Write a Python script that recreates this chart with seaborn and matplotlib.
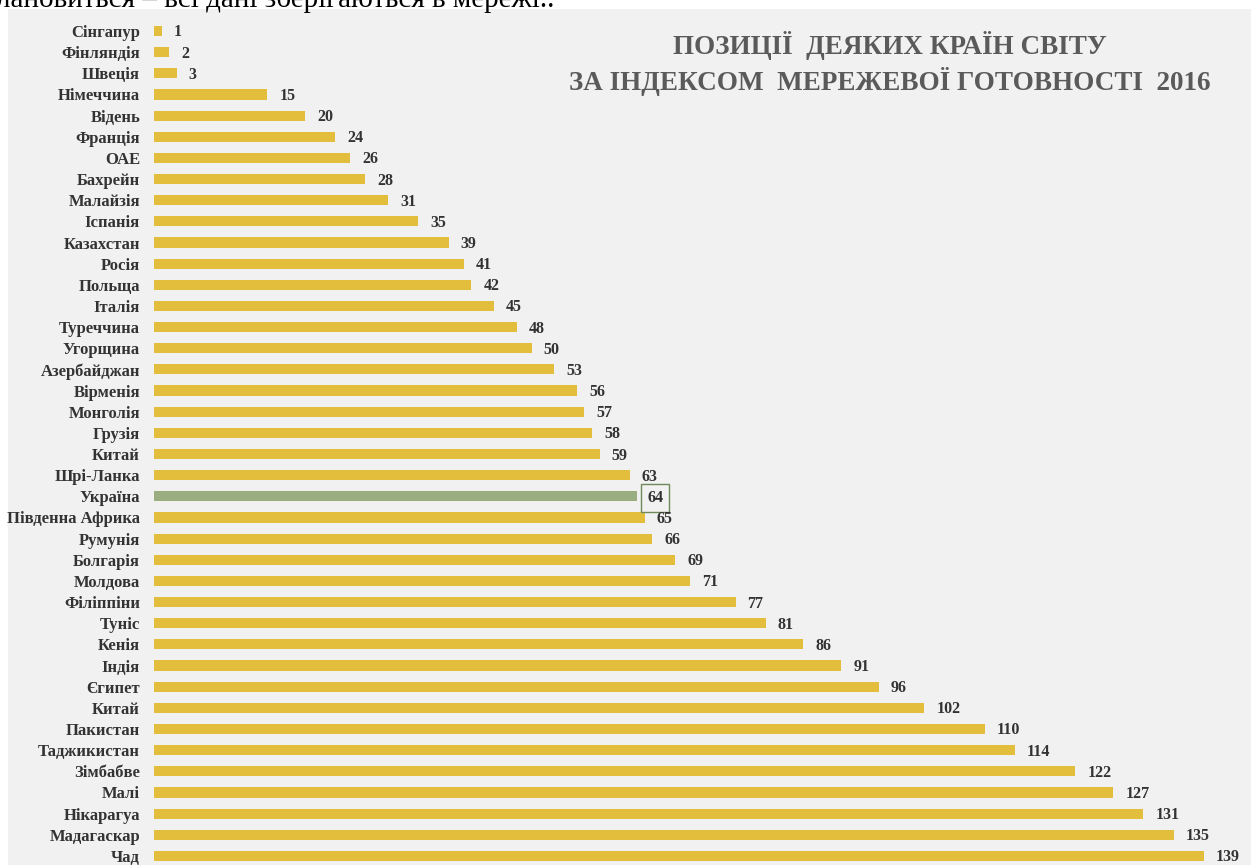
import matplotlib
matplotlib.use("Agg")
import matplotlib.pyplot as plt
import seaborn as sns
import pandas as pd
from matplotlib.patches import Rectangle

countries = ["Сінгапур", "Фінляндія", "Швеція", "Німеччина", "Відень", "Франція",
             "ОАЕ", "Бахрейн", "Малайзія", "Іспанія", "Казахстан", "Росія",
             "Польща", "Італія", "Туреччина", "Угорщина", "Азербайджан", "Вірменія",
             "Монголія", "Грузія", "Китай", "Шрі-Ланка", "Україна", "Південна Африка",
             "Румунія", "Болгарія", "Молдова", "Філіппіни", "Туніс", "Кенія",
             "Індія", "Єгипет", "Китай", "Пакистан", "Таджикистан", "Зімбабве",
             "Малі", "Нікарагуа", "Мадагаскар", "Чад"]
ranks = [1, 2, 3, 15, 20, 24, 26, 28, 31, 35, 39, 41, 42, 45, 48, 50, 53, 56, 57, 58,
         59, 63, 64, 65, 66, 69, 71, 77, 81, 86, 91, 96, 102, 110, 114, 122, 127, 131,
         135, 139]
highlight = "Україна"

title = "ПОЗИЦІЇ  ДЕЯКИХ КРАЇН СВІТУ\nЗА ІНДЕКСОМ  МЕРЕЖЕВОЇ ГОТОВНОСТІ  2016"
header_line = "лановиться – всі дані зберігаються в мережі.."

GOLD = "#E2BE3C"
GREEN = "#9BAE80"
PANEL = "#F1F1F1"
TEXT = "#333333"
SERIF = ["Liberation Serif", "DejaVu Serif"]

sns.set_theme(style="white")
plt.rcParams["font.family"] = SERIF

df = pd.DataFrame({
    "pos": [str(i) for i in range(len(countries))],
    "rank": ranks,
    "group": ["hl" if c == highlight else "base" for c in countries],
})

W, H = 1251, 865
fig = plt.figure(figsize=(W / 100, H / 100), dpi=100)
fig.patch.set_facecolor("white")

# grey panel behind the chart
fig.add_artist(Rectangle((8 / W, 0), 1 - 8 / W, 1 - 9 / H, transform=fig.transFigure,
                         facecolor=PANEL, edgecolor="none", zorder=0))
# line of page text above the panel (its upper part runs off the page)
fig.text(-0.003, 1 - 7 / H, header_line, ha="left", va="baseline",
         fontsize=21, color="black", family=SERIF)

ax = fig.add_axes([154 / W, 0, 1 - 154 / W - 11 / W, 1 - 20 / H])
ax.set_facecolor("none")

sns.barplot(data=df, x="rank", y="pos", hue="group", orient="h", dodge=False,
            palette={"base": GOLD, "hl": GREEN}, width=0.48, legend=False,
            saturation=1, linewidth=0, ax=ax)

n = len(countries)
ax.set_xlim(0, 143.8)
ax.set_ylim(n - 1 + 0.43, -0.52)
ax.set_yticks(range(n))
ax.set_yticklabels(countries, fontsize=12, fontweight="bold", color=TEXT)
ax.tick_params(axis="y", length=0, pad=10)
ax.set_xticks([])
ax.set_xlabel("")
ax.set_ylabel("")
for s in ax.spines.values():
    s.set_visible(False)

for i, (c, v) in enumerate(zip(countries, ranks)):
    kw = dict(ha="left", va="center", fontsize=11.5, fontweight="bold", color=TEXT)
    x = v + 1.6
    if c == highlight:
        kw["bbox"] = dict(boxstyle="square,pad=0.38", facecolor="none",
                          edgecolor="#6E8A5A", linewidth=1)
        x = v + 1.3
    ax.text(x, i + 0.07, str(v), **kw)

fig.text(890 / W, 1 - 63.5 / H, title, ha="center", va="center", fontsize=19.5,
         fontweight="bold", color="#5A5A5A", linespacing=1.3)

fig.savefig("out.png", dpi=100)
